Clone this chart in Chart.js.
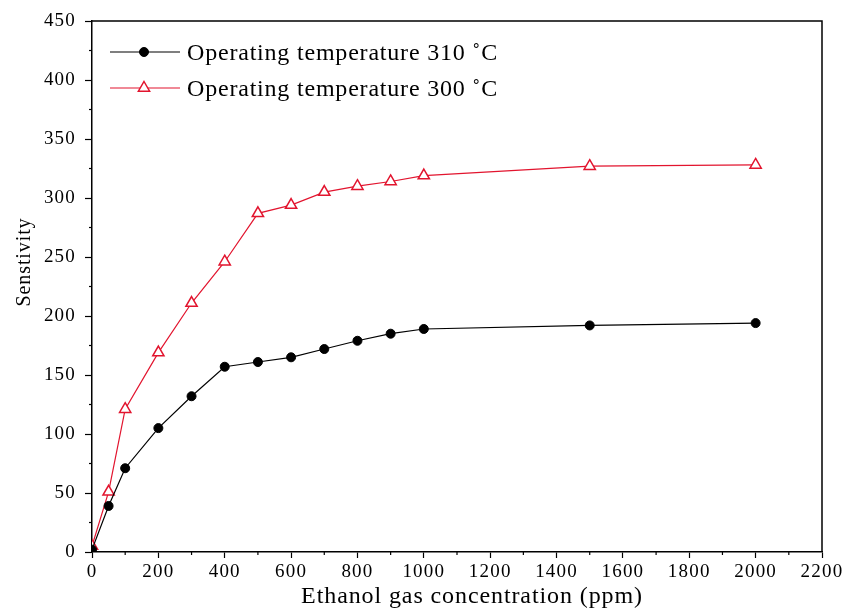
<!DOCTYPE html>
<html>
<head>
<meta charset="utf-8">
<title>Ethanol sensitivity</title>
<script src="https://cdn.jsdelivr.net/npm/chart.js@4/dist/chart.umd.min.js"></script>
<style>
  html, body { margin: 0; padding: 0; background: #fff; }
  #wrap { width: 842px; height: 611px; }
</style>
</head>
<body>
<div id="wrap"><canvas id="chartSensitivity" width="842" height="611"></canvas></div>
<script>
/* ----------------------------------------------------------------------------
                                     DATA
---------------------------------------------------------------------------- */
var concentration = [0, 50, 100, 200, 300, 400, 500, 600, 700, 800, 900, 1000, 1500, 2000];
var sensitivity310 = [2, 39, 71, 105, 132, 157, 161, 165, 172, 179, 185, 189, 192, 194];
var sensitivity300 = [5, 51, 121, 169, 211, 246, 287, 294, 305, 310, 314, 319, 327, 328];

var seriesLabels = ['Operating temperature 310 \u02DAC', 'Operating temperature 300 \u02DAC'];
var xTitle = 'Ethanol gas concentration (ppm)';
var yTitle = 'Senstivity';

var xTicks = { min: 0, max: 2200, step: 200 };
var yTicks = { min: 0, max: 450, step: 50 };

var red = '#e2142e';
var serif = '"Liberation Serif", "Times New Roman", serif';

/* ----------------------------------------------------------------------------
                                    PLUGINS
---------------------------------------------------------------------------- */

// frame on top and right, minor ticks halfway between labelled ticks
const frameAndMinorTicks = {
    id: 'frameAndMinorTicks',
    afterDraw(chart) {
        const ctx = chart.ctx;
        const a = chart.chartArea;
        ctx.save();
        ctx.strokeStyle = '#000';
        ctx.lineWidth = 1.5;
        ctx.beginPath();
        ctx.moveTo(a.left, a.top);
        ctx.lineTo(a.right, a.top);
        ctx.lineTo(a.right, a.bottom);
        ctx.stroke();

        ctx.lineWidth = 1.2;
        const xs = chart.scales.x;
        for (let i = 0; i < xs.ticks.length - 1; i++) {
            const px = xs.getPixelForValue((xs.ticks[i].value + xs.ticks[i + 1].value) / 2);
            ctx.beginPath();
            ctx.moveTo(px, a.bottom);
            ctx.lineTo(px, a.bottom + 3);
            ctx.stroke();
        }
        const ys = chart.scales.y;
        for (let i = 0; i < ys.ticks.length - 1; i++) {
            const py = ys.getPixelForValue((ys.ticks[i].value + ys.ticks[i + 1].value) / 2);
            ctx.beginPath();
            ctx.moveTo(a.left, py);
            ctx.lineTo(a.left - 3, py);
            ctx.stroke();
        }
        ctx.restore();
    }
};

// axis titles, placed by hand like the original plot
const axisTitles = {
    id: 'axisTitles',
    afterDraw(chart) {
        const ctx = chart.ctx;
        ctx.save();
        ctx.fillStyle = '#000';
        ctx.letterSpacing = '0.9px';
        ctx.font = '24px ' + serif;
        ctx.textAlign = 'center';
        ctx.textBaseline = 'alphabetic';
        ctx.fillText(xTitle, 472, 603);

        ctx.font = '20px ' + serif;
        ctx.translate(30, 262);
        ctx.rotate(-Math.PI / 2);
        ctx.fillText(yTitle, 0, 0);
        ctx.restore();
    }
};

// legend box inside the plot, top left
const insideLegend = {
    id: 'insideLegend',
    afterDraw(chart) {
        const ctx = chart.ctx;
        const rows = [52, 88];
        ctx.save();
        chart.data.datasets.forEach(function(ds, i) {
            const y = rows[i];
            ctx.strokeStyle = ds.borderColor;
            ctx.lineWidth = 1.2;
            ctx.beginPath();
            ctx.moveTo(110, y);
            ctx.lineTo(180, y);
            ctx.stroke();

            ctx.fillStyle = ds.pointBackgroundColor;
            ctx.strokeStyle = ds.pointBorderColor;
            ctx.lineWidth = ds.pointBorderWidth;
            ctx.beginPath();
            if (ds.pointStyle === 'triangle') {
                const r = ds.pointRadius;
                ctx.moveTo(144, y - r);
                ctx.lineTo(144 + r * 0.866, y + r / 2);
                ctx.lineTo(144 - r * 0.866, y + r / 2);
                ctx.closePath();
            } else {
                ctx.arc(144, y, ds.pointRadius, 0, Math.PI * 2);
            }
            ctx.fill();
            ctx.stroke();

            ctx.fillStyle = '#000';
            ctx.letterSpacing = '0.8px';
            ctx.font = '24px ' + serif;
            ctx.textAlign = 'left';
            ctx.textBaseline = 'alphabetic';
            ctx.fillText(ds.label, 187, y + 8);
        });
        ctx.restore();
    }
};

// spaced-out digits on the tick labels
const tickSpacing = {
    id: 'tickSpacing',
    beforeDraw(chart) { chart.ctx.letterSpacing = '1.2px'; },
    afterDraw(chart) { chart.ctx.letterSpacing = '0px'; }
};

function plainNumber(value) {
    return String(value);
}

/* ----------------------------------------------------------------------------
                                     MAIN
---------------------------------------------------------------------------- */
const ctx_sens = document.getElementById('chartSensitivity').getContext('2d');

const chartSensitivity = new Chart(ctx_sens, {
    type: 'line',
    data: {
        datasets: [{
            label: seriesLabels[0],
            data: concentration.map(function(c, i) { return { x: c, y: sensitivity310[i] }; }),
            borderColor: '#000',
            borderWidth: 1.2,
            pointStyle: 'circle',
            pointRadius: 4.5,
            pointBorderWidth: 1,
            pointBackgroundColor: '#000',
            pointBorderColor: '#000',
            tension: 0
        }, {
            label: seriesLabels[1],
            data: concentration.map(function(c, i) { return { x: c, y: sensitivity300[i] }; }),
            borderColor: red,
            borderWidth: 1.2,
            pointStyle: 'triangle',
            pointRadius: 6.5,
            pointBorderWidth: 1.5,
            pointBackgroundColor: '#fff',
            pointBorderColor: red,
            tension: 0
        }]
    },
    options: {
        responsive: false,
        animation: false,
        layout: {
            padding: { top: 21, right: 20, left: 0, bottom: 0 }
        },
        plugins: {
            legend: { display: false },
            tooltip: { enabled: false }
        },
        scales: {
            x: {
                type: 'linear',
                min: xTicks.min,
                max: xTicks.max,
                afterFit: function(scale) {
                    scale.height = 59;
                    scale.paddingLeft = 0;
                    scale.paddingRight = 0;
                },
                grid: {
                    drawOnChartArea: false,
                    drawTicks: true,
                    tickLength: 6,
                    tickColor: '#000',
                    tickWidth: 1.2
                },
                border: { color: '#000', width: 1.5 },
                ticks: {
                    stepSize: xTicks.step,
                    color: '#000',
                    padding: 3,
                    maxRotation: 0,
                    callback: plainNumber,
                    font: { family: serif, size: 19 }
                }
            },
            y: {
                min: yTicks.min,
                max: yTicks.max,
                afterFit: function(scale) {
                    scale.width = 92;
                    scale.paddingTop = 0;
                    scale.paddingBottom = 0;
                },
                grid: {
                    drawOnChartArea: false,
                    drawTicks: true,
                    tickLength: 7,
                    tickColor: '#000',
                    tickWidth: 1.2
                },
                border: { color: '#000', width: 1.5 },
                ticks: {
                    stepSize: yTicks.step,
                    color: '#000',
                    padding: 9,
                    callback: plainNumber,
                    font: { family: serif, size: 19 }
                }
            }
        }
    },
    plugins: [tickSpacing, frameAndMinorTicks, axisTitles, insideLegend]
});
</script>
</body>
</html>
